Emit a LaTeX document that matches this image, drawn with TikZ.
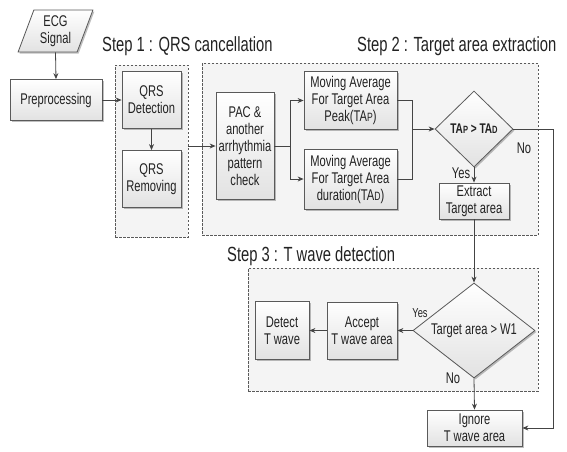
\documentclass[tikz,border=0pt]{standalone}
\usepackage{fontspec}
\setmainfont{Liberation Sans}[FakeStretch=0.72]
\usetikzlibrary{arrows.meta,shapes.geometric,shadows}

\definecolor{edge}{HTML}{5A5A5A}
\definecolor{ink}{HTML}{222222}
\definecolor{wirec}{HTML}{444444}
\definecolor{stagefill}{HTML}{F4F4F4}
\definecolor{boxbot}{HTML}{E2E2E2}

\begin{document}
\begin{tikzpicture}[x=1pt,y=-1pt,
  txt/.style={font=\fontsize{15.5}{17}\selectfont, text=ink, align=center},
  shade box/.style={draw=edge, line width=0.8pt, top color=white, bottom color=boxbot,
    drop shadow={shadow xshift=1.5pt, shadow yshift=-1.5pt, opacity=0.25, fill=black}},
  box/.style={txt, shade box, inner sep=1pt},
  decision/.style={diamond, shade box, inner sep=0pt},
  stage/.style={draw=edge, dash pattern=on 2.5pt off 1.5pt, fill=stagefill, line width=0.7pt, inner sep=0pt},
  steplabel/.style={font=\fontsize{20.5}{22}\selectfont, text=ink, anchor=west, inner sep=0pt},
  wire/.style={draw=wirec, line width=0.8pt},
  arr/.style={wire, -{Stealth[length=6pt,width=5pt]}},
  lbl/.style={font=\fontsize{15.5}{17}\selectfont, text=ink, inner sep=0pt},
]
\useasboundingbox (0,0) rectangle (567,451);

% dashed stage frames
\node[stage, minimum width=73pt, minimum height=172pt] (s1) at (151.5,151) {};
\node[stage, minimum width=336pt, minimum height=172pt] (s2) at (370,149) {};
\node[stage, minimum width=290pt, minimum height=123pt] (s3) at (393,329.5) {};

\node[steplabel] (l1) at (102,46) {Step 1 : QRS cancellation};
\node[steplabel] (l2) at (357,46) {Step 2 : Target area extraction};
\node[steplabel] (l3) at (227,256) {Step 3 : T wave detection};

% input and preprocessing
\node[txt, shade box, trapezium, trapezium left angle=70, trapezium right angle=110,
  trapezium stretches=true, minimum width=75pt, minimum height=42pt, inner sep=0pt] (ecg) at (55.5,31) {ECG\\Signal};
\node[box, minimum width=92pt, minimum height=41pt] (pre) at (56,100) {Preprocessing};

% step 1
\node[box, minimum width=59pt, minimum height=57pt] (qd) at (151.5,100) {QRS\\Detection};
\node[box, minimum width=59pt, minimum height=57pt] (qr) at (151.5,179) {QRS\\Removing};

% step 2
\node[box, minimum width=58pt, minimum height=107pt] (pac) at (245,146) {PAC \&\\another\\arrhythmia\\pattern\\check};
\node[box, minimum width=93pt, minimum height=58pt] (peak) at (350.5,100.5) {Moving Average\\For Target Area\\Peak(TA{\fontsize{12}{12}\selectfont P})};
\node[box, minimum width=93pt, minimum height=60pt] (dur) at (350.5,179) {Moving Average\\For Target Area\\duration(TA{\fontsize{12}{12}\selectfont D})};
\node[decision, minimum width=78pt, minimum height=76pt] (d1) at (474,129) {};
\node[txt, font=\fontsize{14}{15}\selectfont\bfseries, inner sep=0pt] (d1t) at (d1)
  {TA{\fontsize{10.5}{11}\selectfont P} > TA{\fontsize{10.5}{11}\selectfont D}};
\node[box, minimum width=70pt, minimum height=36pt] (ext) at (474,201) {Extract\\Target area};

% step 3
\node[decision, minimum width=122pt, minimum height=95pt] (d2) at (474,330.5) {};
\node[txt, inner sep=0pt] (d2t) at (d2) {Target area > W1};
\node[box, minimum width=70pt, minimum height=57pt] (acc) at (362,330.5) {Accept\\T wave area};
\node[box, minimum width=54pt, minimum height=58pt] (det) at (282,330.5) {Detect\\T wave};
\node[box, minimum width=95pt, minimum height=36pt] (ign) at (474.5,428) {Ignore\\T wave area};

% connectors
\coordinate (split) at (290,146);
\coordinate (merge) at (412,129);
\coordinate (corner) at (553,129);

\draw[arr] (ecg.south) -- (pre.north);
\draw[arr] (pre.east) -- (qd.west);
\draw[arr] (qd.south) -- (qr.north);
\draw[arr] (s1.east |- pac.west) -- (pac.west);
\draw[wire] (pac.east) -- (split);
\draw[arr] (split) |- (peak.west);
\draw[arr] (split) |- (dur.west);
\draw[wire] (peak.east) -| (merge);
\draw[wire] (dur.east) -| (merge);
\draw[arr] (merge) -- (d1.west);
\draw[arr] (d1.south) -- (ext.north);
\draw[arr] (d1.east) -- (corner) |- (ign.east);
\draw[arr] (ext.south) -- (d2.north);
\draw[arr] (d2.west) -- (acc.east);
\draw[arr] (acc.west) -- (det.east);
\draw[arr] (d2.south) -- (ign.north);

% branch labels
\node[lbl] (no1) at (524,148) {No};
\node[lbl] (yes1) at (461,173) {Yes};
\node[lbl, font=\fontsize{13}{14}\selectfont] (yes2) at (420,313) {Yes};
\node[lbl] (no2) at (453,378) {No};
\end{tikzpicture}
\end{document}
